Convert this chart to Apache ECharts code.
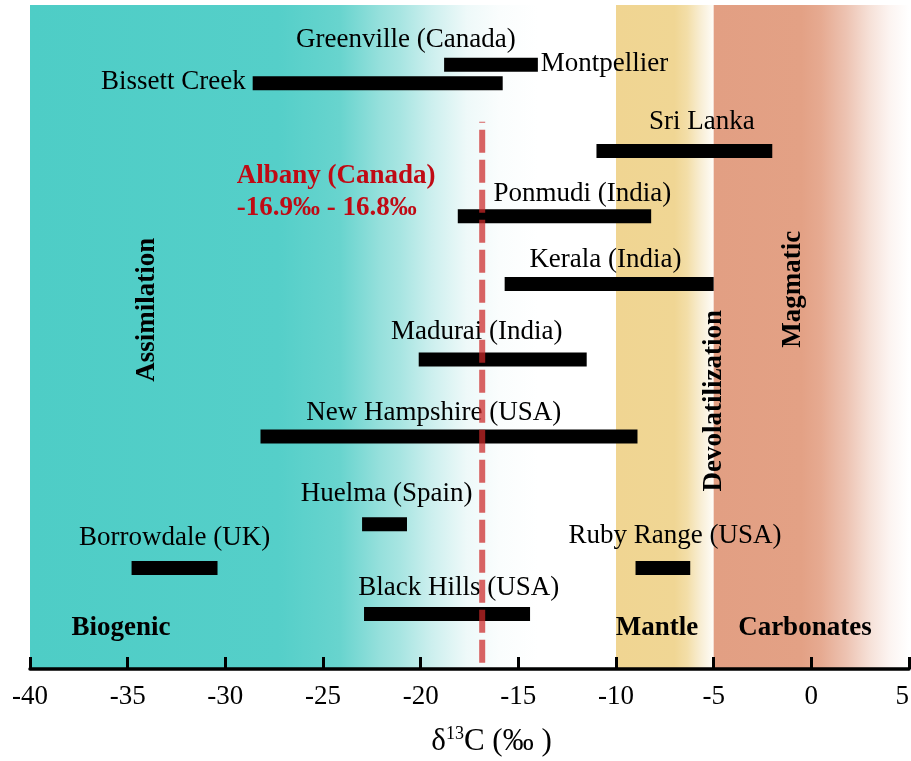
<!DOCTYPE html>
<html>
<head>
<meta charset="utf-8">
<title>δ13C ranges of graphite deposits</title>
<script src="https://cdn.jsdelivr.net/npm/echarts@6/dist/echarts.min.js"></script>
<style>
  html, body { margin: 0; padding: 0; background: #fff; }
  #chart { width: 911px; height: 761px; }
</style>
</head>
<body>
<div id="chart"></div>
<script>
// δ13C ranges (‰) of graphite occurrences
const sites   = ['Greenville (Canada)', 'Bissett Creek', 'Sri Lanka', 'Ponmudi (India)', 'Kerala (India)',
                 'Madurai (India)', 'New Hampshire (USA)', 'Huelma (Spain)', 'Borrowdale (UK)',
                 'Ruby Range (USA)', 'Black Hills (USA)'];
const d13cMin = [-18.8, -28.6, -11.0, -18.1, -15.7, -20.1, -28.2, -23.0, -34.8, -9.0, -22.9];
const d13cMax = [-14.0, -15.8,  -2.0,  -8.2,  -5.0, -11.5,  -8.9, -20.7, -30.4, -6.2, -14.4];
// vertical slot of each range on the 0–100 row scale (top = 0)
const rows    = [9.0, 11.8, 22.0, 31.8, 42.0, 53.4, 65.0, 78.2, 84.8, 84.8, 91.7];

// Albany (Canada): -16.9‰ to -16.8‰
const albanyValue = -16.85;
const albanyRows  = [17.6, 100];

// carbon source fields (x extents in ‰)
const zoneBiogenic   = [-40, -14];
const zoneMantle     = [-10, -5];
const zoneCarbonates = [-5, 5];

// axis
const xMin = -40, xMax = 5, xStep = 5;

// annotation texts: [text, x (‰), row, style]
const notes = [
  ['Greenville (Canada)', -20.76, 5.3, 'site'],
  ['Montpellier', -13.85, 8.9, 'siteLeft'],
  ['Bissett Creek', -28.96, 11.6, 'siteRight'],
  ['Sri Lanka', -5.6, 17.6, 'site'],
  ['Albany (Canada)', -29.42, 25.75, 'albany'],
  ['-16.9‰ - 16.8‰', -29.42, 30.6, 'albany'],
  ['Ponmudi (India)', -11.72, 28.5, 'site'],
  ['Kerala (India)', -10.54, 38.4, 'site'],
  ['Madurai (India)', -17.13, 49.2, 'site'],
  ['New Hampshire (USA)', -19.33, 61.4, 'site'],
  ['Huelma (Spain)', -21.74, 73.6, 'site'],
  ['Borrowdale (UK)', -32.6, 80.3, 'site'],
  ['Ruby Range (USA)', -6.98, 80.0, 'site'],
  ['Black Hills (USA)', -18.05, 87.8, 'site'],
  ['Biogenic', -35.34, 93.8, 'zone'],
  ['Mantle', -7.9, 93.8, 'zone'],
  ['Carbonates', -0.33, 93.8, 'zone'],
  ['Assimilation', -34.03, 45.9, 'process'],
  ['Devolatilization', -4.97, 59.6, 'process'],
  ['Magmatic', -0.94, 42.8, 'process']
];

const SERIF = '"Liberation Serif", "Times New Roman", serif';

const noteStyles = {
  site:      { fontSize: 27, color: '#000', align: 'center' },
  siteLeft:  { fontSize: 27, color: '#000', align: 'left' },
  siteRight: { fontSize: 27, color: '#000', align: 'right' },
  albany:    { fontSize: 27, color: '#C00A14', fontWeight: 'bold', align: 'left' },
  zone:      { fontSize: 27, color: '#000', fontWeight: 'bold', align: 'center' },
  process:   { fontSize: 27, color: '#000', fontWeight: 'bold', align: 'center', rotate: 90 }
};

function hGrad(stops) {
  return new echarts.graphic.LinearGradient(0, 0, 1, 0,
    stops.map(s => ({ offset: s[0], color: s[1] })));
}

const biogenicFill = hGrad([
  [0, '#4ECDC6'], [0.49, '#55CFC9'], [0.61, '#68D4CE'], [0.69, '#96E0DC'],
  [0.73, '#A8E5E2'], [0.79, '#CCEFEE'], [0.86, '#EEF9F9'], [0.925, '#FAFDFD'], [1, '#FFFFFF']
]);
const mantleFill = hGrad([
  [0, '#F0D592'], [0.6, '#F0D694'], [0.73, '#F3DEA8'], [0.86, '#F8EDD2'], [0.97, '#FDF9F0'], [1, '#FFFDF8']
]);
const carbonateFill = hGrad([
  [0, '#E29F83'], [0.45, '#E3A185'], [0.55, '#E6AA91'], [0.68, '#EDC3B2'],
  [0.8, '#F6E1D8'], [0.9, '#FCF4F1'], [1, '#FFFFFF']
]);

const chart = echarts.init(document.getElementById('chart'), null, { renderer: 'canvas' });

const rangeData = sites.map((s, i) => ({ name: s, value: [d13cMin[i], d13cMax[i], rows[i]] }));

const noteData = notes.map(n => {
  const st = noteStyles[n[3]];
  return {
    name: n[0],
    value: [n[1], n[2]],
    label: {
      show: true,
      position: 'inside',
      formatter: n[0],
      fontFamily: SERIF,
      fontSize: st.fontSize,
      fontWeight: st.fontWeight || 'normal',
      color: st.color,
      opacity: 1,
      textBorderWidth: 0,
      textBorderColor: 'transparent',
      align: st.align,
      verticalAlign: 'middle',
      rotate: st.rotate || 0
    }
  };
});

const option = {
  backgroundColor: '#fff',
  animation: false,
  grid: { left: 30, right: 2, top: 5, bottom: 92, containLabel: false, outerBoundsMode: 'none' },
  xAxis: {
    type: 'value',
    z: 10,
    min: xMin, max: xMax, interval: xStep,
    name: '{a|δ}{s|13}{a|C (‰ )}',
    nameLocation: 'middle',
    nameGap: 56,
    nameTextStyle: {
      padding: [0, 0, 0, 44],
      rich: {
        a: { fontFamily: SERIF, fontSize: 31, color: '#000', lineHeight: 34 },
        s: { fontFamily: SERIF, fontSize: 18, color: '#000', verticalAlign: 'top', lineHeight: 34, padding: [0, 0, 12, 0] }
      }
    },
    axisLine: { show: true, onZero: false, lineStyle: { color: '#000', width: 3.5 } },
    axisTick: { show: true, inside: true, length: 12, lineStyle: { color: '#000', width: 3 } },
    axisLabel: { fontFamily: SERIF, fontSize: 27, color: '#000', margin: 14, alignMaxLabel: 'right' },
    splitLine: { show: false }
  },
  yAxis: {
    type: 'value', min: 0, max: 100, inverse: true, show: false
  },
  series: [
    {
      name: 'fields',
      type: 'scatter',
      data: [],
      z: 1,
      silent: true,
      markArea: {
        silent: true,
        label: { show: false },
        data: [
          [{ xAxis: zoneBiogenic[0], yAxis: 0, itemStyle: { color: biogenicFill } },
           { xAxis: zoneBiogenic[1], yAxis: 100 }],
          [{ xAxis: zoneMantle[0], yAxis: 0, itemStyle: { color: mantleFill } },
           { xAxis: zoneMantle[1], yAxis: 100 }],
          [{ xAxis: zoneCarbonates[0], yAxis: 0, itemStyle: { color: carbonateFill } },
           { xAxis: zoneCarbonates[1], yAxis: 100 }]
        ]
      }
    },
    {
      name: 'δ13C range',
      type: 'custom',
      z: 3,
      data: rangeData,
      encode: { x: [0, 1], y: 2 },
      renderItem: function (params, api) {
        const a = api.coord([api.value(0), api.value(2)]);
        const b = api.coord([api.value(1), api.value(2)]);
        const h = 14;
        return {
          type: 'rect',
          shape: { x: a[0], y: a[1] - h / 2, width: b[0] - a[0], height: h },
          style: { fill: '#000' }
        };
      }
    },
    {
      name: 'notes',
      type: 'scatter',
      z: 4,
      symbolSize: 0,
      silent: true,
      itemStyle: { opacity: 1 },
      data: noteData
    },
    {
      name: 'Albany (Canada)',
      type: 'line',
      z: 5,
      symbol: 'none',
      silent: true,
      data: albanyRows.map(r => [albanyValue, r]),
      lineStyle: { color: 'rgba(204,40,40,0.72)', width: 6, type: [23, 7], dashOffset: 22, cap: 'butt' }
    }
  ]
};

chart.setOption(option);
</script>
</body>
</html>
